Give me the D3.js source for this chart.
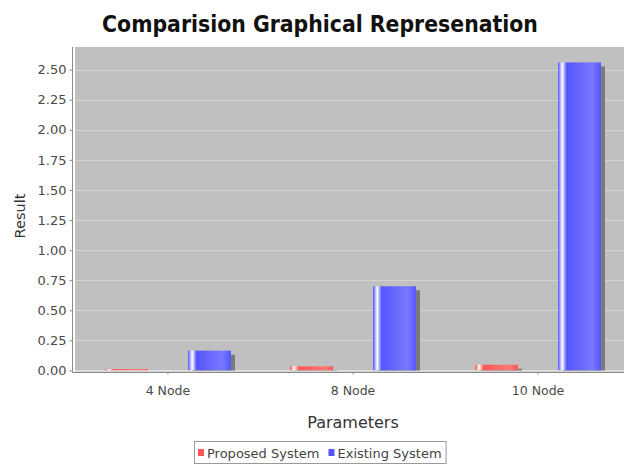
<!DOCTYPE html>
<html>
<head>
<meta charset="utf-8">
<script src="https://cdn.jsdelivr.net/npm/d3@7"></script>
<style>
  html, body { margin: 0; padding: 0; background: #fff; }
  svg { display: block; }
</style>
</head>
<body>
<svg id="chart" width="624" height="468"></svg>
<script>
// Chart data
const categories = ["4 Node", "8 Node", "10 Node"];
const seriesNames = ["Proposed System", "Existing System"];
const proposedValues = [0.012, 0.035, 0.048];
const existingValues = [0.165, 0.70, 2.56];
const yTicks = [0, 0.25, 0.5, 0.75, 1.0, 1.25, 1.5, 1.75, 2.0, 2.25, 2.5];

const titleText = "Comparision Graphical Represenation";
const xTitle = "Parameters";
const yTitle = "Result";

const seriesColors = { "Proposed System": [255, 85, 85], "Existing System": [85, 85, 255] };

const svg = d3.select("#chart");

// Plot area
const plot = { left: 75, right: 631, top: 47, bottom: 370.5 };

const rows = categories.map((c, i) => ({
  category: c,
  values: [
    { series: seriesNames[0], value: proposedValues[i] },
    { series: seriesNames[1], value: existingValues[i] }
  ]
}));

const maxVal = d3.max(existingValues.concat(proposedValues));
const y = d3.scaleLinear().domain([0, maxVal * 1.05]).range([plot.bottom, plot.top]);

const x0 = d3.scaleBand().domain(categories).range([plot.left, plot.right])
  .paddingInner(0.319).paddingOuter(0.162);
const x1 = d3.scaleBand().domain(seriesNames).range([0, x0.bandwidth()])
  .paddingInner(0.482).paddingOuter(0);

// Clip for everything drawn inside the plot
const defs = svg.append("defs");
defs.append("clipPath").attr("id", "plotClip")
  .append("rect")
  .attr("x", plot.left).attr("y", plot.top)
  .attr("width", plot.right - plot.left).attr("height", plot.bottom - plot.top);

// Horizontal gradients for the glossy bar look
function rgb(a) { return `rgb(${a[0]},${a[1]},${a[2]})`; }
function brighter(a) { return a.map(v => Math.min(255, Math.round(v / 0.7))); }
seriesNames.forEach((s, i) => {
  const c0 = rgb(seriesColors[s]);
  const c1 = rgb(brighter(seriesColors[s]));
  const g = defs.append("linearGradient").attr("id", "grad" + i)
    .attr("x1", "0%").attr("x2", "100%").attr("y1", "0%").attr("y2", "0%");
  [[0, c0], [10, "#ffffff"], [20, c0], [80, c1], [100, c0]].forEach(([o, c]) => {
    g.append("stop").attr("offset", o + "%").attr("stop-color", c);
  });
});

// Plot background
svg.append("rect")
  .attr("x", plot.left).attr("y", plot.top)
  .attr("width", plot.right - plot.left).attr("height", plot.bottom - plot.top)
  .attr("fill", "#c0c0c0");

// Range gridlines
svg.append("g").selectAll("line").data(yTicks).join("line")
  .attr("x1", plot.left).attr("x2", plot.right)
  .attr("y1", d => Math.round(y(d)) + 0.5).attr("y2", d => Math.round(y(d)) + 0.5)
  .attr("stroke", "#d4d4d4").attr("stroke-width", 1);

// Bars with drop shadows
const barLayer = svg.append("g").attr("clip-path", "url(#plotClip)");
const groups = barLayer.selectAll("g.cat").data(rows).join("g")
  .attr("class", "cat")
  .attr("transform", d => `translate(${x0(d.category)},0)`);

groups.selectAll("rect.shadow").data(d => d.values).join("rect")
  .attr("class", "shadow")
  .attr("x", d => x1(d.series) + 4)
  .attr("y", d => y(d.value) + 4)
  .attr("width", x1.bandwidth())
  .attr("height", d => plot.bottom - y(d.value))
  .attr("fill", "#7a7a7a");

groups.selectAll("rect.bar").data(d => d.values).join("rect")
  .attr("class", "bar")
  .attr("x", d => x1(d.series))
  .attr("y", d => y(d.value))
  .attr("width", x1.bandwidth())
  .attr("height", d => plot.bottom - y(d.value))
  .attr("fill", d => `url(#grad${seriesNames.indexOf(d.series)})`);

// Y axis
const yAxis = d3.axisLeft(y).tickValues(yTicks).tickFormat(d3.format(".2f"))
  .tickSizeInner(3).tickSizeOuter(0).tickPadding(3);
const gy = svg.append("g").attr("transform", `translate(${plot.left - 2.5},0)`).call(yAxis);
gy.select(".domain").attr("stroke", "#8a8a8a").attr("d", `M0,${plot.top}V${plot.bottom + 2}`);
gy.selectAll(".tick line").attr("stroke", "#8a8a8a");
gy.selectAll(".tick text")
  .attr("fill", "#4a4a4a")
  .style("font-family", "'DejaVu Sans', sans-serif")
  .style("font-size", "13px");

// X axis
const xAxis = d3.axisBottom(x0).tickSizeInner(2).tickSizeOuter(0).tickPadding(12);
const gx = svg.append("g").attr("transform", `translate(0,${plot.bottom + 2})`).call(xAxis);
gx.select(".domain").attr("stroke", "#8a8a8a").attr("d", `M${plot.left - 2.5},0H${plot.right}`);
gx.selectAll(".tick line").attr("stroke", "#8a8a8a");
gx.selectAll(".tick text")
  .attr("fill", "#4a4a4a")
  .style("font-family", "'DejaVu Sans', sans-serif")
  .style("font-size", "12.5px");

// Title, fitted to its width
const title = svg.append("text")
  .attr("x", 320).attr("y", 32)
  .attr("text-anchor", "middle")
  .style("font-family", "'DejaVu Sans Condensed', 'DejaVu Sans', sans-serif")
  .style("font-weight", "bold")
  .style("font-size", "20px")
  .attr("fill", "#111")
  .text(titleText);
const tw = title.node().getComputedTextLength();
title.style("font-size", (20 * 436 / tw).toFixed(2) + "px");

// Axis titles
svg.append("text")
  .attr("x", (plot.left + plot.right) / 2).attr("y", 428)
  .attr("text-anchor", "middle")
  .style("font-family", "'DejaVu Sans', sans-serif")
  .style("font-size", "16px")
  .attr("fill", "#333")
  .text(xTitle);

svg.append("text")
  .attr("transform", `translate(25,216) rotate(-90)`)
  .attr("text-anchor", "middle")
  .style("font-family", "'DejaVu Sans', sans-serif")
  .style("font-size", "14.5px")
  .attr("fill", "#333")
  .text(yTitle);

// Legend
const legend = svg.append("g");
const legendBox = legend.append("rect")
  .attr("fill", "#fff").attr("stroke", "#9a9a9a").attr("stroke-width", 1);
let lx = 198;
const ly = 453;
seriesNames.forEach(s => {
  legend.append("rect")
    .attr("x", lx).attr("y", ly - 4).attr("width", 6).attr("height", 7)
    .attr("fill", rgb(seriesColors[s]));
  const t = legend.append("text")
    .attr("x", lx + 9).attr("y", ly + 4.5)
    .style("font-family", "'DejaVu Sans', sans-serif")
    .style("font-size", "13px")
    .attr("fill", "#444")
    .text(s);
  lx += 9 + t.node().getComputedTextLength() + 9;
});
legendBox.attr("x", 194.5).attr("y", 441.5).attr("width", lx - 194 - 5).attr("height", 22);
</script>
</body>
</html>
